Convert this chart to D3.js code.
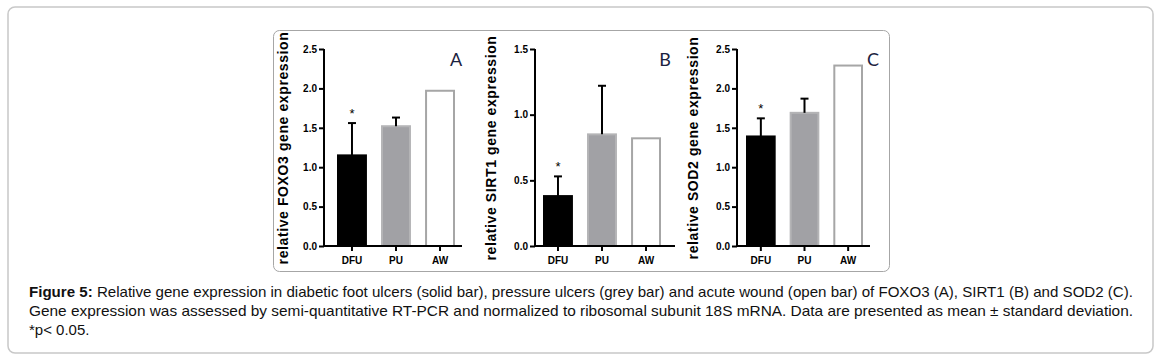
<!DOCTYPE html>
<html><head><meta charset="utf-8">
<script src="https://cdn.jsdelivr.net/npm/d3@7"></script>
<style>body{margin:0;background:#fff}svg{display:block}</style>
</head><body>
<svg id="c" width="1161" height="363"></svg>
<script>
const categories = ["DFU", "PU", "AW"];
const foxo3Means = [1.15, 1.52, 1.97];
const foxo3SD = [0.41, 0.11, 0];
const sirt1Means = [0.38, 0.85, 0.82];
const sirt1SD = [0.15, 0.37, 0];
const sod2Means = [1.39, 1.69, 2.29];
const sod2SD = [0.23, 0.18, 0];
const significant = [true, false, false];
const ticksA = [0, 0.5, 1.0, 1.5, 2.0, 2.5];
const ticksB = [0, 0.5, 1.0, 1.5];
const ticksC = [0, 0.5, 1.0, 1.5, 2.0, 2.5];
const panelLetters = ["A", "B", "C"];
const yTitles = ["relative FOXO3 gene expression", "relative SIRT1 gene expression", "relative SOD2 gene expression"];
const captionLines = [
  ["Figure 5:", " Relative gene expression in diabetic foot ulcers (solid bar), pressure ulcers (grey bar) and acute wound (open bar) of FOXO3 (A), SIRT1 (B) and SOD2 (C)."],
  ["", "Gene expression was assessed by semi-quantitative RT-PCR and normalized to ribosomal subunit 18S mRNA. Data are presented as mean \u00b1 standard deviation."],
  ["", "*p< 0.05."]
];

const svg = d3.select("#c");
svg.append("rect").attr("x", 8).attr("y", 7).attr("width", 1145).attr("height", 346)
  .attr("rx", 7).attr("fill", "#fff").attr("stroke", "#c8c8c8").attr("stroke-width", 1.5);
svg.append("rect").attr("x", 273.5).attr("y", 30.5).attr("width", 616).attr("height", 241)
  .attr("rx", 6).attr("fill", "#fff").attr("stroke", "#a6a6a6").attr("stroke-width", 1);

const panels = [
  {means: foxo3Means, sd: foxo3SD, ticks: ticksA, max: 2.5, axisX: 324, bars: [337, 455], xEnd: 462, titleX: 283, letterX: 456},
  {means: sirt1Means, sd: sirt1SD, ticks: ticksB, max: 1.5, axisX: 535, bars: [543, 661], xEnd: 675, titleX: 491, letterX: 665},
  {means: sod2Means, sd: sod2SD, ticks: ticksC, max: 2.5, axisX: 737, bars: [746, 863], xEnd: 870, titleX: 693, letterX: 873}
];
const fills = ["#000000", "#a1a1a5", "#ffffff"];
const strokes = ["#000000", "#b4b4b6", "#a6a6a6"];

panels.forEach((p, i) => {
  const g = svg.append("g");
  const y = d3.scaleLinear().domain([0, p.max]).range([246, 49]);
  const x = d3.scaleBand().domain(categories).range(p.bars).paddingInner(0.32).paddingOuter(0);
  const data = categories.map((c, k) => ({c, m: p.means[k], sd: p.sd[k], sig: significant[k], k}));

  // bars
  g.selectAll("rect.bar").data(data).enter().append("rect")
    .attr("x", d => x(d.c) + 1).attr("width", x.bandwidth() - 2)
    .attr("y", d => y(d.m)).attr("height", d => y(0) - y(d.m))
    .attr("fill", d => fills[d.k]).attr("stroke", d => strokes[d.k]).attr("stroke-width", 2);

  // error bars
  const eb = data.filter(d => d.sd > 0);
  g.selectAll("line.err").data(eb).enter().append("line")
    .attr("x1", d => x(d.c) + x.bandwidth() / 2).attr("x2", d => x(d.c) + x.bandwidth() / 2)
    .attr("y1", d => y(d.m)).attr("y2", d => y(d.m + d.sd))
    .attr("stroke", "#000").attr("stroke-width", 2);
  g.selectAll("line.cap").data(eb).enter().append("line")
    .attr("x1", d => x(d.c) + x.bandwidth() / 2 - 4).attr("x2", d => x(d.c) + x.bandwidth() / 2 + 4)
    .attr("y1", d => y(d.m + d.sd)).attr("y2", d => y(d.m + d.sd))
    .attr("stroke", "#000").attr("stroke-width", 2);
  g.selectAll("text.sig").data(data.filter(d => d.sig)).enter().append("text")
    .attr("x", d => x(d.c) + x.bandwidth() / 2).attr("y", d => y(d.m + d.sd) - 5)
    .attr("text-anchor", "middle").attr("font-family", "Liberation Sans, Arial, sans-serif")
    .attr("font-size", 13).text("*");

  // y axis
  const ya = g.append("g").attr("transform", `translate(${p.axisX},0)`)
    .call(d3.axisLeft(y).tickValues(p.ticks).tickFormat(d3.format(".1f")).tickSize(5).tickPadding(2));
  ya.select(".domain").attr("stroke", "#000").attr("stroke-width", 2).attr("d", `M0,${y(p.max)}V${y(0)}`);
  ya.selectAll(".tick line").attr("stroke", "#000").attr("stroke-width", 2);
  ya.selectAll(".tick text").attr("font-family", "Liberation Sans, Arial, sans-serif")
    .attr("font-weight", "bold").attr("font-size", 10).attr("fill", "#000");

  // x axis
  const xa = g.append("g").attr("transform", `translate(0,${y(0)})`)
    .call(d3.axisBottom(x).tickSize(5).tickPadding(6));
  xa.select(".domain").attr("stroke", "#000").attr("stroke-width", 2).attr("d", `M${p.axisX - 1},0H${p.xEnd}`);
  xa.selectAll(".tick line").attr("stroke", "#000").attr("stroke-width", 2);
  xa.selectAll(".tick text").attr("font-family", "Liberation Sans, Arial, sans-serif")
    .attr("font-weight", "bold").attr("font-size", 10).attr("fill", "#000");

  // y title
  g.append("text").attr("transform", `translate(${p.titleX + 5},148) rotate(-90)`)
    .attr("text-anchor", "middle").attr("font-family", "Liberation Sans, Arial, sans-serif")
    .attr("font-weight", "bold").attr("font-size", 14).attr("letter-spacing", 0.6)
    .attr("fill", "#000").text(yTitles[i]);

  // panel letter
  g.append("text").attr("x", p.letterX).attr("y", 66).attr("text-anchor", "middle")
    .attr("font-family", "Lato, 'Open Sans', sans-serif").attr("font-size", 18)
    .attr("fill", "#1b2240").text(panelLetters[i]);
});

// caption
const lineY = [297, 316, 335];
const lineLen = [1104, 1104, null];
captionLines.forEach((ln, i) => {
  const t = svg.append("text").attr("x", 29).attr("y", lineY[i])
    .attr("font-family", "Liberation Sans, Arial, sans-serif").attr("font-size", 15).attr("fill", "#111");
  if (lineLen[i]) t.attr("textLength", lineLen[i]).attr("lengthAdjust", "spacingAndGlyphs");
  if (ln[0]) t.append("tspan").attr("font-weight", "bold").text(ln[0]);
  t.append("tspan").text(ln[1]);
});
</script>
</body></html>
